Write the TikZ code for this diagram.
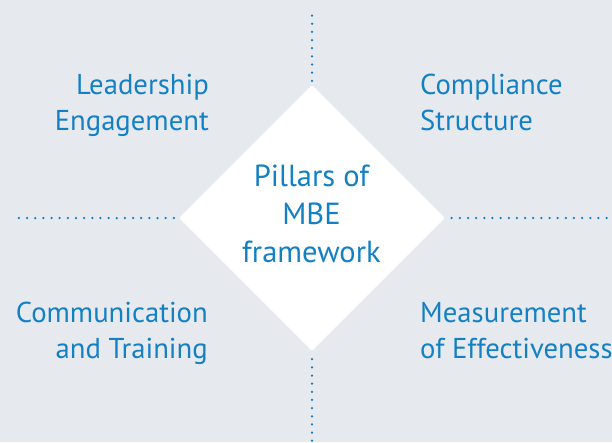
\documentclass[tikz,border=0pt]{standalone}
\usepackage{fontspec}
\setmainfont{PT Sans}
\usetikzlibrary{shapes.geometric}
\definecolor{bg}{RGB}{230,233,238}
\definecolor{mbeblue}{RGB}{20,128,196}
\definecolor{dotblue}{RGB}{10,124,200}
\tikzset{
  pillar/.style={text=mbeblue, inner sep=0pt, font=\fontsize{28.7}{36}\selectfont},
  dotline/.style={draw=dotblue, line width=2.5pt, line cap=round, dash pattern=on 0pt off 8.15pt},
  core/.style={diamond, aspect=1, fill=white, draw=none, inner sep=0pt,
    minimum width=266pt, minimum height=266pt, rounded corners=2pt,
    text=mbeblue, align=center, font=\fontsize{30.5}{38}\selectfont}
}
\begin{document}
\begin{tikzpicture}[x=1pt,y=-1pt]
  \fill[bg] (0,0) rectangle (612,442);
  \useasboundingbox (0,0) rectangle (612,442);
  \node[core] (c) at (312,218) {};
  \node[text=mbeblue, align=center, inner sep=0pt, font=\fontsize{30.5}{38}\selectfont] (ct0) at (311.5,214) {Pillars of\\MBE\\framework};
  \coordinate (topend) at (312,8);
  \coordinate (botend) at (312,444);
  \coordinate (leftend) at (13,218);
  \coordinate (rightend) at (614,218);
  \draw[dotline] ([yshift=4pt]c.north) -- (topend);
  \draw[dotline] ([yshift=-8pt]c.south) -- (botend);
  \draw[dotline] ([xshift=-5pt]c.west) -- (leftend);
  \draw[dotline] ([xshift=6.5pt]c.east) -- (rightend);
  \node[pillar, align=right, anchor=north east] (le) at (209,74) {Leadership\\Engagement};
  \node[pillar, align=left, anchor=north west] (cs) at (420,74) {Compliance\\Structure};
  \node[pillar, align=right, anchor=north east] (ct) at (208,302) {Communication\\and Training};
  \node[pillar, align=left, anchor=north west] (me) at (420,302) {Measurement\\of Effectiveness};
\end{tikzpicture}
\end{document}
